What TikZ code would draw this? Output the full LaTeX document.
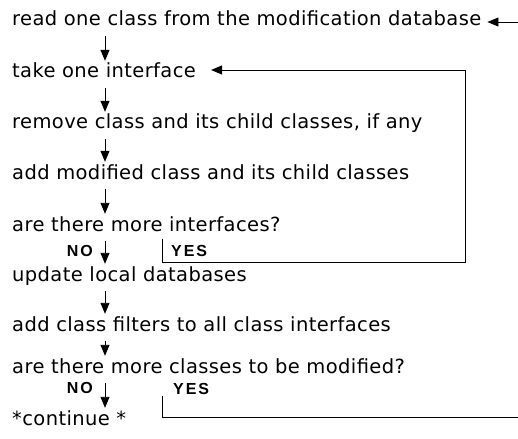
\documentclass[tikz,border=0pt]{standalone}
\usepackage{fontspec}
\setmainfont{DejaVu Sans}[LetterSpace=2]
\newfontfamily\answerfont{Liberation Sans}[LetterSpace=12]
\usetikzlibrary{arrows.meta}

\begin{document}
\begin{tikzpicture}[x=1pt,y=-1pt,
  stepline/.style={anchor=base west, inner sep=0pt, text height=14pt, text depth=4.5pt,
                   font=\fontsize{19.5}{22}\selectfont},
  answer/.style={inner sep=0pt, font=\answerfont\bfseries\fontsize{16}{18}\selectfont},
  flow/.style={-{Triangle[length=11pt,width=9pt]}, line width=0.9pt},
  backline/.style={line width=0.9pt},
  down/.style={flow, shorten <=5.5pt, shorten >=3pt}]
\useasboundingbox (0,0) rectangle (518,438);

% process steps
\node[stepline] (s1) at (12,26)  {read one class from the modification database};
\node[stepline] (s2) at (12,78)  {take one interface};
\node[stepline] (s3) at (12,129) {remove class and its child classes, if any};
\node[stepline] (s4) at (12,179) {add modified class and its child classes};
\node[stepline] (s5) at (12,231) {are there more interfaces?};
\node[stepline] (s6) at (12,281) {update local databases};
\node[stepline] (s7) at (12,331) {add class filters to all class interfaces};
\node[stepline] (s8) at (12,373) {are there more classes to be modified?};
\node[stepline] (s9) at (12,425) {*continue *};

% decision answers
\node[answer, anchor=base east] (no1)  at (93,256) {NO};
\node[answer, anchor=base west] (yes1) at (171,256) {YES};
\node[answer, anchor=base east] (no2)  at (93,393) {NO};
\node[answer, anchor=base west] (yes2) at (173,394) {YES};

% vertical axis of the main flow and corners of the loops
\coordinate (ax) at (105,0);
\coordinate (yx) at (162,0);
\coordinate (inner-low) at (465,262);
\coordinate (inner-top) at (465,70);
\coordinate (outer-low) at (518,417);
\coordinate (outer-in) at (518,22);

% main flow
\draw[down] (s1.south -| ax) -- (s2.north -| ax);
\draw[down] (s2.south -| ax) -- (s3.north -| ax);
\draw[down] (s3.south -| ax) -- (s4.north -| ax);
\draw[down] (s4.south -| ax) -- (s5.north -| ax);
\draw[down] (s5.south -| ax) -- (s6.north -| ax);
\draw[down] (s6.south -| ax) -- (s7.north -| ax);
\draw[down] (s7.south -| ax) -- (s8.north -| ax);
\draw[down] (s8.south -| ax) -- (s9.north -| ax);

% loop over the interfaces
\draw[flow, shorten >=15pt]
  ([yshift=-3pt]s5.south -| yx) |- (inner-low) -- (inner-top) -- (s2.east |- inner-top);

% loop over the classes
\draw[backline] ([yshift=-18pt]s8.south -| yx) |- (outer-low);
\draw[flow, shorten >=6pt] (outer-in) -- (s1.east |- outer-in);
\end{tikzpicture}
\end{document}
